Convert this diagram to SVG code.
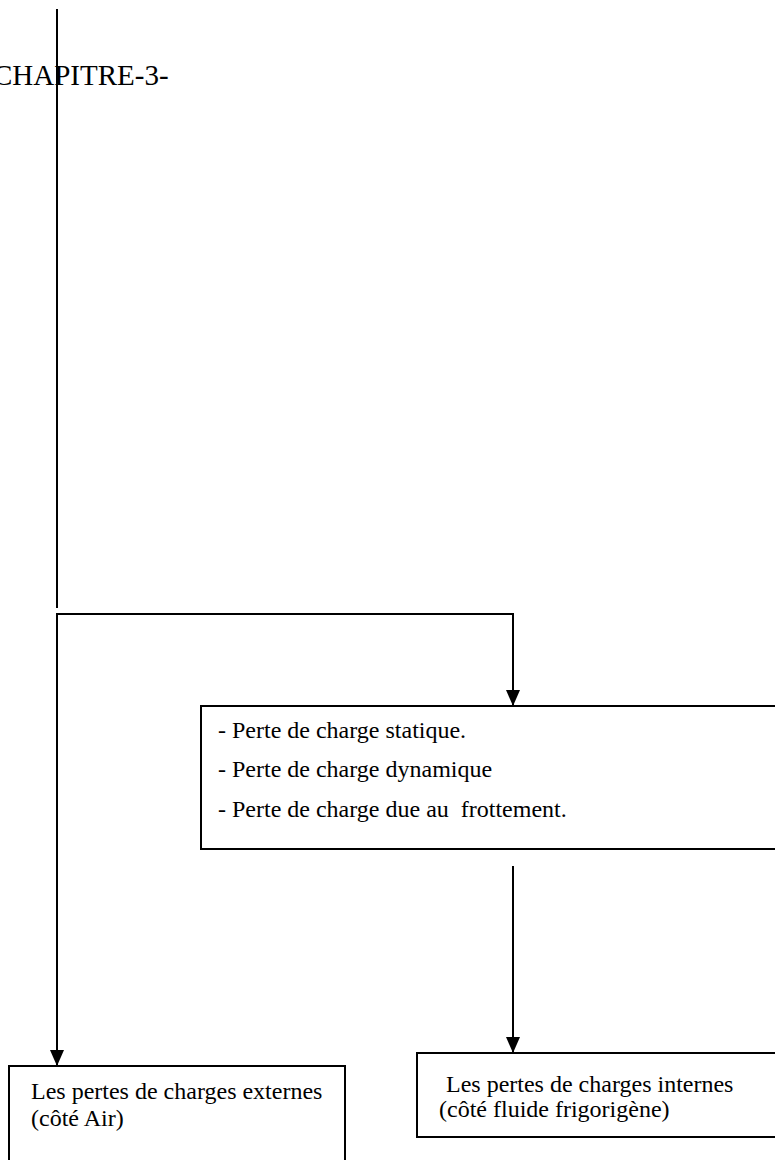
<svg xmlns="http://www.w3.org/2000/svg" width="775" height="1160" viewBox="0 0 775 1160">
  <style>
    text { font-family: "Liberation Serif", "Times New Roman", serif; fill: #000; }
    .title { font-size: 29px; }
    .item { font-size: 24px; }
    .label { font-size: 24px; }
    .box { fill: #fff; stroke: #000; stroke-width: 2; }
    .wire { fill: none; stroke: #000; stroke-width: 2; }
  </style>
  <defs>
    <!-- solid arrowhead, tip at the end of the line -->
    <marker id="arrow" viewBox="0 0 16 14" refX="16" refY="7" markerWidth="16" markerHeight="14" markerUnits="userSpaceOnUse" orient="auto">
      <path d="M0 0 L16 7 L0 14 Z" fill="#000"/>
    </marker>
  </defs>

  <text class="title" x="-7" y="85">CHAPITRE-3-</text>

  <!-- boxes -->
  <g id="node-types">
    <rect class="box" x="201" y="706" width="590" height="143"/>
    <text class="item" x="218" y="738">- Perte de charge statique.</text>
    <text class="item" x="218" y="777">- Perte de charge dynamique</text>
    <text class="item" x="218" y="817" xml:space="preserve">- Perte de charge due au  frottement.</text>
  </g>

  <g id="node-external">
    <rect class="box" x="9" y="1066" width="336" height="110"/>
    <text class="label" x="31" y="1099">Les pertes de charges externes</text>
    <text class="label" x="31" y="1126">(côté Air)</text>
  </g>

  <g id="node-internal">
    <rect class="box" x="417" y="1053" width="380" height="84"/>
    <text class="label" x="440" y="1092" xml:space="preserve"> Les pertes de charges internes</text>
    <text class="label" x="439" y="1117">(côté fluide frigorigène)</text>
  </g>

  <!-- connectors -->
  <g id="connectors">
    <line class="wire" x1="57" y1="9" x2="57" y2="608" stroke-width="1.5"/>
    <polyline class="wire" points="57,614 513,614 513,706" marker-end="url(#arrow)"/>
    <line class="wire" x1="57" y1="613" x2="57" y2="1066" marker-end="url(#arrow)"/>
    <line class="wire" x1="513" y1="866" x2="513" y2="1053" marker-end="url(#arrow)"/>
  </g>
</svg>
